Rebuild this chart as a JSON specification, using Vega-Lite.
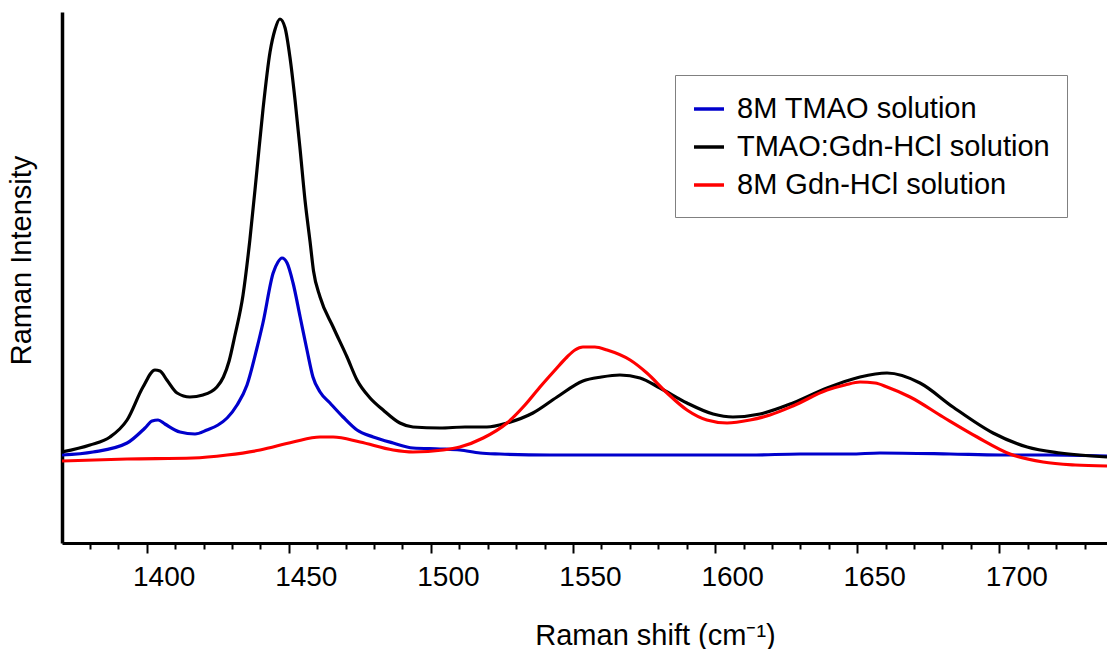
{
  "$schema": "https://vega.github.io/schema/vega-lite/v6.json",
  "width": 1045,
  "height": 531,
  "autosize": {"type": "none"},
  "padding": {"left": 62, "top": 12, "right": 0, "bottom": 106},
  "background": "white",
  "config": {"view": {"stroke": null}, "font": "Liberation Sans"},
  "data": {"values": [
    {"x": 1370.2, "y": 88, "s": "8M TMAO solution"},
    {"x": 1381.1, "y": 91, "s": "8M TMAO solution"},
    {"x": 1393.1, "y": 100, "s": "8M TMAO solution"},
    {"x": 1399.4, "y": 115, "s": "8M TMAO solution"},
    {"x": 1401.9, "y": 122, "s": "8M TMAO solution"},
    {"x": 1404.0, "y": 123, "s": "8M TMAO solution"},
    {"x": 1406.4, "y": 119, "s": "8M TMAO solution"},
    {"x": 1411.7, "y": 111, "s": "8M TMAO solution"},
    {"x": 1417.0, "y": 109, "s": "8M TMAO solution"},
    {"x": 1421.2, "y": 113, "s": "8M TMAO solution"},
    {"x": 1425.1, "y": 118, "s": "8M TMAO solution"},
    {"x": 1428.3, "y": 125, "s": "8M TMAO solution"},
    {"x": 1431.8, "y": 138, "s": "8M TMAO solution"},
    {"x": 1435.3, "y": 158, "s": "8M TMAO solution"},
    {"x": 1438.8, "y": 195, "s": "8M TMAO solution"},
    {"x": 1440.9, "y": 220, "s": "8M TMAO solution"},
    {"x": 1444.5, "y": 270, "s": "8M TMAO solution"},
    {"x": 1446.2, "y": 281, "s": "8M TMAO solution"},
    {"x": 1447.6, "y": 285, "s": "8M TMAO solution"},
    {"x": 1449.4, "y": 280, "s": "8M TMAO solution"},
    {"x": 1451.5, "y": 260, "s": "8M TMAO solution"},
    {"x": 1454.0, "y": 226, "s": "8M TMAO solution"},
    {"x": 1456.4, "y": 193, "s": "8M TMAO solution"},
    {"x": 1458.5, "y": 166, "s": "8M TMAO solution"},
    {"x": 1461.0, "y": 151, "s": "8M TMAO solution"},
    {"x": 1464.5, "y": 140, "s": "8M TMAO solution"},
    {"x": 1469.1, "y": 126, "s": "8M TMAO solution"},
    {"x": 1474.0, "y": 113, "s": "8M TMAO solution"},
    {"x": 1479.7, "y": 106, "s": "8M TMAO solution"},
    {"x": 1486.7, "y": 100, "s": "8M TMAO solution"},
    {"x": 1493.7, "y": 95, "s": "8M TMAO solution"},
    {"x": 1503.2, "y": 94, "s": "8M TMAO solution"},
    {"x": 1510.2, "y": 93, "s": "8M TMAO solution"},
    {"x": 1517.3, "y": 90, "s": "8M TMAO solution"},
    {"x": 1524.3, "y": 89, "s": "8M TMAO solution"},
    {"x": 1541.9, "y": 88, "s": "8M TMAO solution"},
    {"x": 1559.5, "y": 88, "s": "8M TMAO solution"},
    {"x": 1577.1, "y": 88, "s": "8M TMAO solution"},
    {"x": 1594.7, "y": 88, "s": "8M TMAO solution"},
    {"x": 1612.3, "y": 88, "s": "8M TMAO solution"},
    {"x": 1629.9, "y": 89, "s": "8M TMAO solution"},
    {"x": 1647.5, "y": 89, "s": "8M TMAO solution"},
    {"x": 1658.0, "y": 90, "s": "8M TMAO solution"},
    {"x": 1682.7, "y": 89, "s": "8M TMAO solution"},
    {"x": 1700.3, "y": 88, "s": "8M TMAO solution"},
    {"x": 1717.9, "y": 88, "s": "8M TMAO solution"},
    {"x": 1737.9, "y": 87, "s": "8M TMAO solution"},

    {"x": 1370.2, "y": 91, "s": "TMAO:Gdn-HCl solution"},
    {"x": 1380.05, "y": 98, "s": "TMAO:Gdn-HCl solution"},
    {"x": 1387.1, "y": 106, "s": "TMAO:Gdn-HCl solution"},
    {"x": 1393.1, "y": 123, "s": "TMAO:Gdn-HCl solution"},
    {"x": 1398.7, "y": 156, "s": "TMAO:Gdn-HCl solution"},
    {"x": 1402.9, "y": 173, "s": "TMAO:Gdn-HCl solution"},
    {"x": 1404.7, "y": 172, "s": "TMAO:Gdn-HCl solution"},
    {"x": 1407.1, "y": 163, "s": "TMAO:Gdn-HCl solution"},
    {"x": 1410.7, "y": 150, "s": "TMAO:Gdn-HCl solution"},
    {"x": 1415.2, "y": 146, "s": "TMAO:Gdn-HCl solution"},
    {"x": 1419.8, "y": 148, "s": "TMAO:Gdn-HCl solution"},
    {"x": 1424.7, "y": 156, "s": "TMAO:Gdn-HCl solution"},
    {"x": 1427.0, "y": 166, "s": "TMAO:Gdn-HCl solution"},
    {"x": 1429.0, "y": 182, "s": "TMAO:Gdn-HCl solution"},
    {"x": 1431.0, "y": 207, "s": "TMAO:Gdn-HCl solution"},
    {"x": 1433.9, "y": 248, "s": "TMAO:Gdn-HCl solution"},
    {"x": 1436.3, "y": 303, "s": "TMAO:Gdn-HCl solution"},
    {"x": 1438.8, "y": 373, "s": "TMAO:Gdn-HCl solution"},
    {"x": 1440.9, "y": 433, "s": "TMAO:Gdn-HCl solution"},
    {"x": 1443.4, "y": 491, "s": "TMAO:Gdn-HCl solution"},
    {"x": 1445.1, "y": 513, "s": "TMAO:Gdn-HCl solution"},
    {"x": 1446.9, "y": 524, "s": "TMAO:Gdn-HCl solution"},
    {"x": 1448.7, "y": 515, "s": "TMAO:Gdn-HCl solution"},
    {"x": 1450.4, "y": 486, "s": "TMAO:Gdn-HCl solution"},
    {"x": 1452.2, "y": 443, "s": "TMAO:Gdn-HCl solution"},
    {"x": 1454.0, "y": 393, "s": "TMAO:Gdn-HCl solution"},
    {"x": 1455.7, "y": 343, "s": "TMAO:Gdn-HCl solution"},
    {"x": 1457.5, "y": 301, "s": "TMAO:Gdn-HCl solution"},
    {"x": 1458.7, "y": 272, "s": "TMAO:Gdn-HCl solution"},
    {"x": 1461.0, "y": 246, "s": "TMAO:Gdn-HCl solution"},
    {"x": 1465.6, "y": 216, "s": "TMAO:Gdn-HCl solution"},
    {"x": 1470.5, "y": 186, "s": "TMAO:Gdn-HCl solution"},
    {"x": 1474.0, "y": 163, "s": "TMAO:Gdn-HCl solution"},
    {"x": 1478.6, "y": 145, "s": "TMAO:Gdn-HCl solution"},
    {"x": 1483.2, "y": 133, "s": "TMAO:Gdn-HCl solution"},
    {"x": 1489.1, "y": 120, "s": "TMAO:Gdn-HCl solution"},
    {"x": 1493.7, "y": 116, "s": "TMAO:Gdn-HCl solution"},
    {"x": 1503.2, "y": 115, "s": "TMAO:Gdn-HCl solution"},
    {"x": 1512.0, "y": 116, "s": "TMAO:Gdn-HCl solution"},
    {"x": 1519.7, "y": 116, "s": "TMAO:Gdn-HCl solution"},
    {"x": 1526.8, "y": 120, "s": "TMAO:Gdn-HCl solution"},
    {"x": 1535.9, "y": 130, "s": "TMAO:Gdn-HCl solution"},
    {"x": 1544.4, "y": 146, "s": "TMAO:Gdn-HCl solution"},
    {"x": 1553.5, "y": 162, "s": "TMAO:Gdn-HCl solution"},
    {"x": 1560.0, "y": 166, "s": "TMAO:Gdn-HCl solution"},
    {"x": 1566.5, "y": 168, "s": "TMAO:Gdn-HCl solution"},
    {"x": 1573.6, "y": 165, "s": "TMAO:Gdn-HCl solution"},
    {"x": 1580.6, "y": 155, "s": "TMAO:Gdn-HCl solution"},
    {"x": 1590.1, "y": 140, "s": "TMAO:Gdn-HCl solution"},
    {"x": 1599.3, "y": 129, "s": "TMAO:Gdn-HCl solution"},
    {"x": 1606.3, "y": 126, "s": "TMAO:Gdn-HCl solution"},
    {"x": 1615.8, "y": 129, "s": "TMAO:Gdn-HCl solution"},
    {"x": 1627.4, "y": 140, "s": "TMAO:Gdn-HCl solution"},
    {"x": 1639.4, "y": 155, "s": "TMAO:Gdn-HCl solution"},
    {"x": 1651.0, "y": 166, "s": "TMAO:Gdn-HCl solution"},
    {"x": 1660.5, "y": 170, "s": "TMAO:Gdn-HCl solution"},
    {"x": 1672.1, "y": 160, "s": "TMAO:Gdn-HCl solution"},
    {"x": 1683.7, "y": 136, "s": "TMAO:Gdn-HCl solution"},
    {"x": 1697.8, "y": 110, "s": "TMAO:Gdn-HCl solution"},
    {"x": 1709.8, "y": 96, "s": "TMAO:Gdn-HCl solution"},
    {"x": 1721.4, "y": 90, "s": "TMAO:Gdn-HCl solution"},
    {"x": 1737.9, "y": 86, "s": "TMAO:Gdn-HCl solution"},

    {"x": 1370.2, "y": 82, "s": "8M Gdn-HCl solution"},
    {"x": 1393.1, "y": 84, "s": "8M Gdn-HCl solution"},
    {"x": 1416.3, "y": 85, "s": "8M Gdn-HCl solution"},
    {"x": 1428.3, "y": 88, "s": "8M Gdn-HCl solution"},
    {"x": 1439.9, "y": 93, "s": "8M Gdn-HCl solution"},
    {"x": 1451.5, "y": 101, "s": "8M Gdn-HCl solution"},
    {"x": 1461.0, "y": 106, "s": "8M Gdn-HCl solution"},
    {"x": 1465.6, "y": 106, "s": "8M Gdn-HCl solution"},
    {"x": 1475.1, "y": 101, "s": "8M Gdn-HCl solution"},
    {"x": 1486.7, "y": 93, "s": "8M Gdn-HCl solution"},
    {"x": 1493.7, "y": 91, "s": "8M Gdn-HCl solution"},
    {"x": 1504.3, "y": 93, "s": "8M Gdn-HCl solution"},
    {"x": 1510.2, "y": 96, "s": "8M Gdn-HCl solution"},
    {"x": 1518.4, "y": 105, "s": "8M Gdn-HCl solution"},
    {"x": 1526.8, "y": 120, "s": "8M Gdn-HCl solution"},
    {"x": 1533.1, "y": 138, "s": "8M Gdn-HCl solution"},
    {"x": 1538.4, "y": 156, "s": "8M Gdn-HCl solution"},
    {"x": 1543.7, "y": 173, "s": "8M Gdn-HCl solution"},
    {"x": 1547.9, "y": 186, "s": "8M Gdn-HCl solution"},
    {"x": 1550.7, "y": 193, "s": "8M Gdn-HCl solution"},
    {"x": 1553.5, "y": 196, "s": "8M Gdn-HCl solution"},
    {"x": 1557.7, "y": 196, "s": "8M Gdn-HCl solution"},
    {"x": 1562.0, "y": 193, "s": "8M Gdn-HCl solution"},
    {"x": 1570.1, "y": 183, "s": "8M Gdn-HCl solution"},
    {"x": 1576.0, "y": 170, "s": "8M Gdn-HCl solution"},
    {"x": 1583.1, "y": 150, "s": "8M Gdn-HCl solution"},
    {"x": 1590.1, "y": 133, "s": "8M Gdn-HCl solution"},
    {"x": 1597.1, "y": 123, "s": "8M Gdn-HCl solution"},
    {"x": 1604.2, "y": 120, "s": "8M Gdn-HCl solution"},
    {"x": 1612.3, "y": 123, "s": "8M Gdn-HCl solution"},
    {"x": 1619.3, "y": 128, "s": "8M Gdn-HCl solution"},
    {"x": 1627.4, "y": 137, "s": "8M Gdn-HCl solution"},
    {"x": 1639.4, "y": 153, "s": "8M Gdn-HCl solution"},
    {"x": 1645.7, "y": 158, "s": "8M Gdn-HCl solution"},
    {"x": 1651.0, "y": 161, "s": "8M Gdn-HCl solution"},
    {"x": 1656.3, "y": 160, "s": "8M Gdn-HCl solution"},
    {"x": 1660.5, "y": 156, "s": "8M Gdn-HCl solution"},
    {"x": 1668.6, "y": 146, "s": "8M Gdn-HCl solution"},
    {"x": 1680.2, "y": 126, "s": "8M Gdn-HCl solution"},
    {"x": 1692.2, "y": 106, "s": "8M Gdn-HCl solution"},
    {"x": 1703.8, "y": 89, "s": "8M Gdn-HCl solution"},
    {"x": 1715.4, "y": 81, "s": "8M Gdn-HCl solution"},
    {"x": 1726.7, "y": 78, "s": "8M Gdn-HCl solution"},
    {"x": 1737.9, "y": 77, "s": "8M Gdn-HCl solution"}
  ]},
  "mark": {"type": "line", "strokeWidth": 3.2, "interpolate": "monotone", "clip": true},
  "encoding": {
    "x": {
      "field": "x", "type": "quantitative",
      "scale": {"domain": [1370.2, 1737.9], "nice": false, "zero": false},
      "axis": {
        "values": [1380, 1390, 1400, 1410, 1420, 1430, 1440, 1450, 1460, 1470, 1480, 1490, 1500, 1510, 1520, 1530, 1540, 1550, 1560, 1570, 1580, 1590, 1600, 1610, 1620, 1630, 1640, 1650, 1660, 1670, 1680, 1690, 1700, 1710, 1720, 1730],
        "format": "d",
        "labelExpr": "datum.value % 50 === 0 ? datum.label : ''",
        "tickSize": {"condition": {"test": "datum.value % 50 === 0", "value": 10}, "value": 6},
        "tickWidth": 2,
        "tickColor": "black",
        "domainColor": "black",
        "domainWidth": 3,
        "grid": false,
        "labelFontSize": 28,
        "labelColor": "black",
        "labelPadding": 10,
        "labelOffset": 17,
        "labelOverlap": false,
        "labelFlush": false,
        "title": "Raman shift (cm⁻¹)",
        "titleFontSize": 29,
        "titleFontWeight": "normal",
        "titleColor": "black",
        "titleX": 593,
        "titleY": 101,
        "titleAlign": "center",
        "titleBaseline": "alphabetic"
      }
    },
    "y": {
      "field": "y", "type": "quantitative",
      "scale": {"domain": [0, 531], "nice": false},
      "axis": {
        "ticks": false,
        "labels": false,
        "grid": false,
        "domainColor": "black",
        "domainWidth": 3.5,
        "title": "Raman Intensity",
        "titleFontSize": 29,
        "titleFontWeight": "normal",
        "titleColor": "black",
        "titleAngle": -90,
        "titleX": -41,
        "titleY": 248,
        "titleAlign": "center",
        "titleBaseline": "middle"
      }
    },
    "color": {
      "field": "s", "type": "nominal",
      "scale": {
        "domain": ["8M TMAO solution", "TMAO:Gdn-HCl solution", "8M Gdn-HCl solution"],
        "range": ["#0000cc", "#000000", "#ff0000"]
      },
      "legend": {
        "orient": "none",
        "legendX": 613,
        "legendY": 63,
        "title": null,
        "strokeColor": "#808080",
        "fillColor": "white",
        "padding": 17,
        "symbolType": "stroke",
        "symbolSize": 900,
        "symbolStrokeWidth": 3.5,
        "labelFontSize": 29,
        "labelColor": "black",
        "labelOffset": 11,
        "labelLimit": 600,
        "rowPadding": 6
      }
    }
  }
}
